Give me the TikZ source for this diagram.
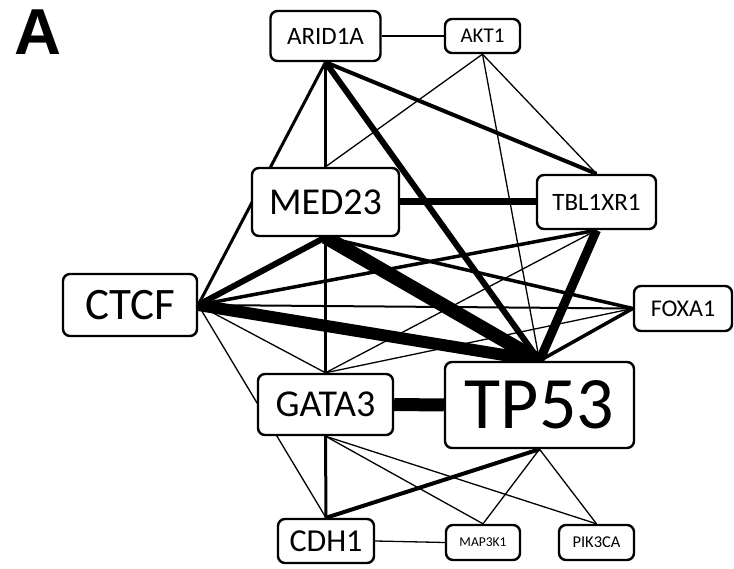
\documentclass[tikz,border=0pt]{standalone}
\usepackage{fontspec}
\setmainfont{Carlito}
\newfontfamily\panelfont{Liberation Sans}
\usepackage{tikz}
\usetikzlibrary{backgrounds}

\newcommand{\fs}[1]{\fontsize{#1}{#1}\selectfont}

\begin{document}
\begin{tikzpicture}[x=1pt, y=-1pt,
  gene/.style={draw, line width=2.4pt, rounded corners=7pt, fill=white, inner sep=0pt},
  link/.style={line width=#1}]
\useasboundingbox (0,0) rectangle (734,569);
\node[anchor=north west, inner sep=0pt, font=\panelfont\bfseries\fs{65}] (panel) at (14,10) {A};

\node[gene, minimum width=110pt, minimum height=50pt, font=\fs{25}] (ARID1A) at (325.5,36) {ARID1A};
\node[gene, minimum width=75pt, minimum height=34pt, font=\fs{21}] (AKT1) at (482.5,36) {AKT1};
\node[gene, minimum width=147pt, minimum height=68pt, font=\fs{38}] (MED23) at (325.5,202) {MED23};
\node[gene, minimum width=119pt, minimum height=54pt, font=\fs{25}] (TBL1XR1) at (596.5,202) {TBL1XR1};
\node[gene, minimum width=134pt, minimum height=62pt, font=\fs{45}] (CTCF) at (130,305) {CTCF};
\node[gene, minimum width=98pt, minimum height=45pt, font=\fs{24}] (FOXA1) at (683,308.5) {FOXA1};
\node[gene, minimum width=135pt, minimum height=61pt, font=\fs{38}] (GATA3) at (325.5,404.5) {GATA3};
\node[gene, minimum width=189pt, minimum height=86pt, font=\fs{74}] (TP53) at (539.5,405) {TP53};
\node[gene, minimum width=96pt, minimum height=44pt, font=\fs{32}] (CDH1) at (326,541) {CDH1};
\node[gene, minimum width=74pt, minimum height=35pt, font=\fs{13.5}] (MAP3K1) at (483,542.5) {MAP3K1};
\node[gene, minimum width=75pt, minimum height=35pt, font=\fs{16.5}] (PIK3CA) at (596.5,542.5) {PIK3CA};

\begin{scope}[on background layer]
\path[draw]
  (ARID1A.east) edge[link=1.3] (AKT1.west)
  (ARID1A.south) edge[link=3] (MED23.north)
  (ARID1A.south) edge[link=3] (CTCF.east)
  (ARID1A.south) edge[link=6] (TP53.north)
  (ARID1A.south) edge[link=4] (TBL1XR1.north)
  (AKT1.south) edge[link=1.3] (MED23.north)
  (AKT1.south) edge[link=1.3] (TBL1XR1.north)
  (AKT1.south) edge[link=1.3] (TP53.north)
  (MED23.east) edge[link=7] (TBL1XR1.west)
  (MED23.south) edge[link=6] (CTCF.east)
  (MED23.south) edge[link=14] (TP53.north)
  (MED23.south) edge[link=3] (GATA3.north)
  (MED23.south) edge[link=3.5] (FOXA1.west)
  ;
\path[draw]
  (CTCF.east) edge[link=3.5] (TBL1XR1.south)
  (CTCF.east) edge[link=2] (FOXA1.west)
  (CTCF.east) edge[link=12] (TP53.north)
  (CTCF.east) edge[link=1.3] (GATA3.north)
  (CTCF.east) edge[link=1.3] (CDH1.north)
  (TBL1XR1.south) edge[link=9] (TP53.north)
  (TBL1XR1.south) edge[link=1.3] (GATA3.north)
  (FOXA1.west) edge[link=3.5] (TP53.north)
  (FOXA1.west) edge[link=1.3] (GATA3.north)
  ;
\path[draw]
  (GATA3.east) edge[link=13] (TP53.west)
  (GATA3.south) edge[link=3] (CDH1.north)
  (GATA3.south) edge[link=1.3] (MAP3K1.north)
  (GATA3.south) edge[link=1.3] (PIK3CA.north)
  (CDH1.north) edge[link=4] (TP53.south)
  (CDH1.east) edge[link=1.3] (MAP3K1.west)
  (TP53.south) edge[link=1.3] (MAP3K1.north)
  (TP53.south) edge[link=1.3] (PIK3CA.north)
  ;
\end{scope}
\end{tikzpicture}
\end{document}
